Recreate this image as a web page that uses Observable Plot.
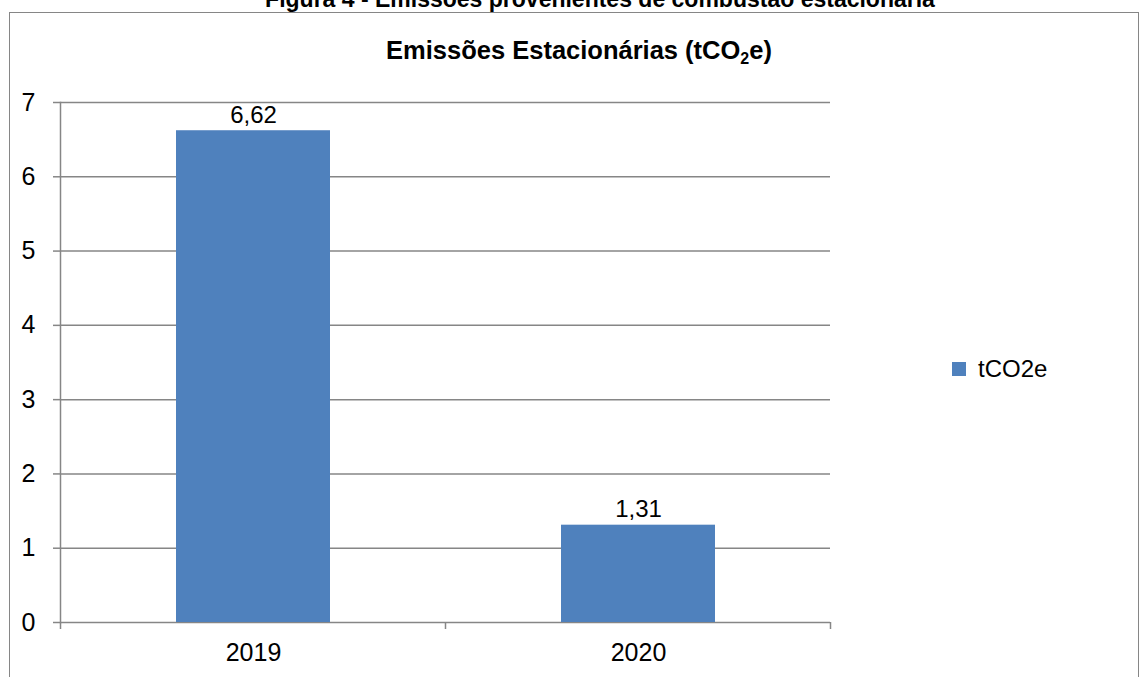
<!DOCTYPE html>
<html>
<head>
<meta charset="utf-8">
<script src="https://cdn.jsdelivr.net/npm/d3@7"></script>
<script src="https://cdn.jsdelivr.net/npm/@observablehq/plot@0.6"></script>
<style>
  html, body { margin: 0; padding: 0; background: #fff; }
  body { width: 1147px; height: 677px; position: relative; overflow: hidden; font-family: "Liberation Sans", Arial, sans-serif; }
  #fig { position: absolute; top: -12px; left: 0; width: 1200px; text-align: center; font-weight: bold; font-size: 23px; line-height: 23px; color: #000; white-space: nowrap; }
  #box { position: absolute; left: 9px; top: 12px; width: 1130px; height: 700px; border: 1.5px solid #868686; box-sizing: border-box; }
  #title { position: absolute; top: 38px; left: 0; width: 1158px; text-align: center; font-weight: bold; font-size: 25.5px; line-height: 25px; color: #000; white-space: nowrap; }
  #title sub { font-size: 16px; vertical-align: -5px; line-height: 0; }
  #legend { position: absolute; left: 952px; top: 355px; font-size: 24px; line-height: 28px; display: flex; align-items: center; }
  #legend .sw { width: 14px; height: 14px; background: #4f81bd; margin-right: 12px; }
  #chart { position: absolute; left: 0; top: 0; }
</style>
</head>
<body>
<div id="fig">Figura 4 - Emissões provenientes de combustão estacionária</div>
<div id="box"></div>
<div id="chart"></div>
<div id="title">Emissões Estacionárias (tCO<sub>2</sub>e)</div>
<div id="legend"><div class="sw"></div><span>tCO2e</span></div>
<script>
const years = ["2019", "2020"];
const emissions = [6.62, 1.31];
const yTicks = [0, 1, 2, 3, 4, 5, 6, 7];
const seriesName = "tCO2e";

const data = years.map((y, i) => ({year: y, value: emissions[i]}));
const fmt = v => v.toFixed(2).replace(".", ",");
const grid = "#868686";

const chart = Plot.plot({
  width: 1147,
  height: 677,
  marginLeft: 60,
  marginRight: 317,
  marginTop: 102,
  marginBottom: 55,
  style: {fontFamily: "Liberation Sans, Arial, sans-serif", fontSize: "25px", color: "#000", background: "transparent"},
  x: {domain: years, paddingInner: 0.6, paddingOuter: 0.3, label: null},
  y: {domain: [0, 7], ticks: yTicks, label: null},
  marks: [
    Plot.ruleY(yTicks, {stroke: grid, strokeWidth: 1.5}),
    Plot.barY(data, {x: "year", y: "value", fill: "#4f81bd"}),
    Plot.frame({anchor: "left", stroke: grid, strokeWidth: 1.5}),
    Plot.axisY({ticks: yTicks, tickSize: 7, tickPadding: 18, stroke: grid, strokeWidth: 1.5, fontSize: 25, color: "#000", tickFormat: d => String(d)}),
    Plot.axisX({tickSize: 0, tickPadding: 21, fontSize: 25, color: "#000"}),
    Plot.text(data, {x: "year", y: "value", text: d => fmt(d.value), lineAnchor: "bottom", dy: -8, fontSize: 24, fill: "#000"})
  ]
});

// category boundary ticks on the x axis, derived from the band scale
const xs = chart.scale("x");
const ys = chart.scale("y");
const step = xs.step;
const y0 = ys.apply(0);
const gap = (step - xs.bandwidth) / 2;
const bounds = [xs.apply(years[0]) - gap];
years.forEach(y => bounds.push(xs.apply(y) + xs.bandwidth + gap));
d3.select(chart).append("g").selectAll("line").data(bounds).join("line")
  .attr("x1", d => d).attr("x2", d => d)
  .attr("y1", y0).attr("y2", y0 + 7)
  .attr("stroke", grid).attr("stroke-width", 1.5);

document.getElementById("chart").appendChild(chart);
</script>
</body>
</html>
